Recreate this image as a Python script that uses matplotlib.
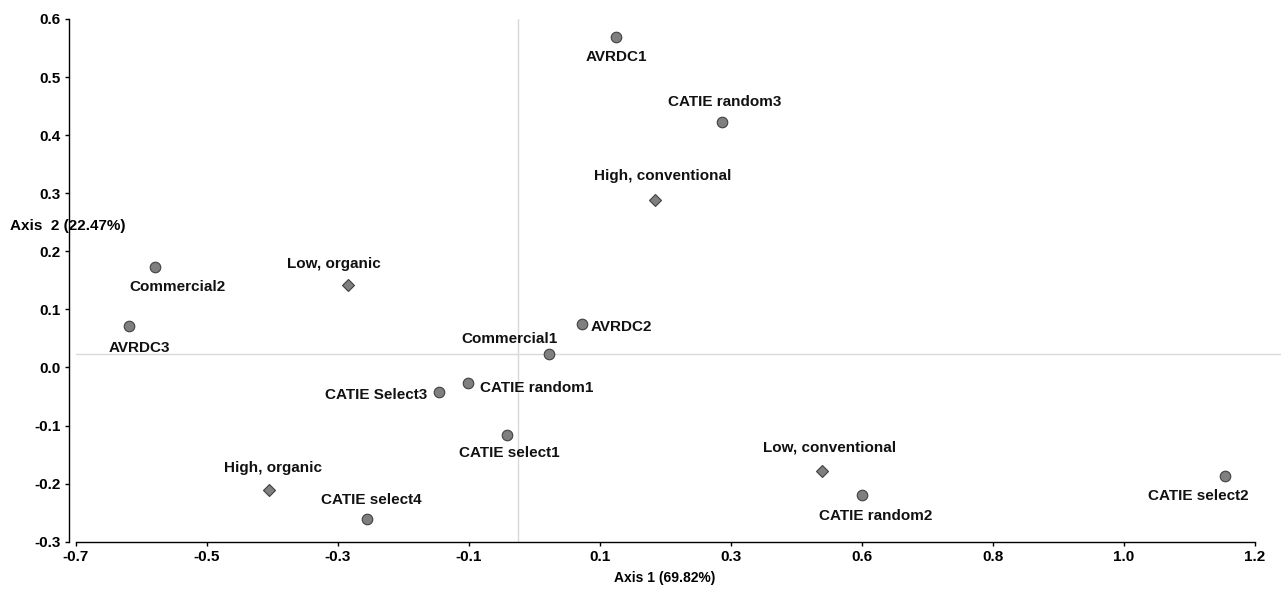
import matplotlib
matplotlib.use('Agg')
import matplotlib.pyplot as plt
import numpy as np

plt.rcParams['font.family'] = ['Liberation Sans', 'DejaVu Sans']
plt.rcParams['font.weight'] = 'bold'

# genotype scores on the first two axes
genotypes = ['AVRDC1', 'CATIE random3', 'Commercial2', 'AVRDC3', 'AVRDC2',
             'Commercial1', 'CATIE random1', 'CATIE Select3', 'CATIE select1',
             'CATIE random2', 'CATIE select4', 'CATIE select2']
geno_ax1 = [0.160, 0.333, -0.591, -0.633, 0.105, 0.051, -0.081, -0.129,
            -0.017, 0.560, -0.246, 1.151]
geno_ax2 = [0.567, 0.415, 0.156, 0.050, 0.054, 0.000, -0.052, -0.067,
            -0.144, -0.252, -0.295, -0.218]

# management treatments
treatments = ['High, conventional', 'Low, organic', 'Low, conventional',
              'High, organic']
treat_ax1 = [0.223, -0.276, 0.495, -0.406]
treat_ax2 = [0.277, 0.125, -0.209, -0.243]

x_tick_labels = ['-0.7', '-0.5', '-0.3', '-0.1', '0.1', '0.3', '0.6', '0.8', '1.0', '1.2']
y_tick_labels = ['-0.3', '-0.2', '-0.1', '0.0', '0.1', '0.2', '0.3', '0.4', '0.5', '0.6']
xlab = 'Axis 1 (69.82%)'
ylab = 'Axis  2 (22.47%)'

# where each name sits relative to its point (pixels, alignment)
place = {
    'AVRDC1': (0, -20, 'center'),
    'CATIE random3': (2, 20, 'center'),
    'High, conventional': (8, 24, 'center'),
    'Commercial2': (23, -20, 'center'),
    'Low, organic': (-15, 21, 'center'),
    'AVRDC3': (10, -22, 'center'),
    'AVRDC2': (8, -3, 'left'),
    'Commercial1': (-40, 15, 'center'),
    'CATIE random1': (12, -5, 'left'),
    'CATIE Select3': (-11, -3, 'right'),
    'CATIE select1': (2, -18, 'center'),
    'Low, conventional': (8, 24, 'center'),
    'CATIE random2': (14, -21, 'center'),
    'High, organic': (4, 22, 'center'),
    'CATIE select4': (4, 19, 'center'),
    'CATIE select2': (-27, -20, 'center'),
}

xmin, xmax = -0.72, 1.2
ymin, ymax = -0.335, 0.6

fig = plt.figure(figsize=(12.81, 5.91), dpi=100)
ax = fig.add_axes([75.7 / 1281, 49.3 / 591, 1 - 75.7 / 1281, 522.7 / 591])
ax.set_xlim(xmin, xmax + 26 * (xmax - xmin) / 1179.3)
ax.set_ylim(ymin, ymax)

ax.axvline(0, color='#d9d9d9', lw=1, zorder=1)
ax.axhline(0, color='#d9d9d9', lw=1, zorder=1)

ax.plot(geno_ax1, geno_ax2, 'o', ms=7.6, mfc='#7f7f7f', mec='#404040', mew=0.8,
        zorder=3, clip_on=False)
ax.plot(treat_ax1, treat_ax2, 'D', ms=6.4, mfc='#7f7f7f', mec='#404040', mew=0.8,
        zorder=3, clip_on=False)

for names, xs, ys in [(genotypes, geno_ax1, geno_ax2), (treatments, treat_ax1, treat_ax2)]:
    for n, x, y in zip(names, xs, ys):
        dx, dy, ha = place[n]
        ax.annotate(n, (x, y), xytext=(dx, dy), textcoords='offset pixels',
                    ha=ha, va='center', fontsize=11, fontweight='bold', color='#111111')

for s in ['top', 'right']:
    ax.spines[s].set_visible(False)
ax.spines['left'].set_position(('outward', 5))
ax.spines['left'].set_bounds(ymin, ymax)
ax.spines['bottom'].set_bounds(xmin, xmax)
ax.spines['left'].set_linewidth(1)
ax.spines['bottom'].set_linewidth(1)

ax.set_xticks(np.linspace(xmin, xmax, len(x_tick_labels)))
ax.set_xticklabels(x_tick_labels)
ax.set_yticks(np.linspace(ymin, ymax, len(y_tick_labels)))
ax.set_yticklabels(y_tick_labels)
ax.tick_params(length=3, width=1, labelsize=11, pad=3)
for t in ax.get_xticklabels() + ax.get_yticklabels():
    t.set_fontweight('bold')

fig.text(665 / 1281, 1 - 578 / 591, xlab, ha='center', va='center',
         fontsize=10, fontweight='bold')
fig.text(10 / 1281, 1 - 226 / 591, ylab, ha='left', va='center',
         fontsize=11, fontweight='bold')

fig.savefig('out.png', dpi=100)
